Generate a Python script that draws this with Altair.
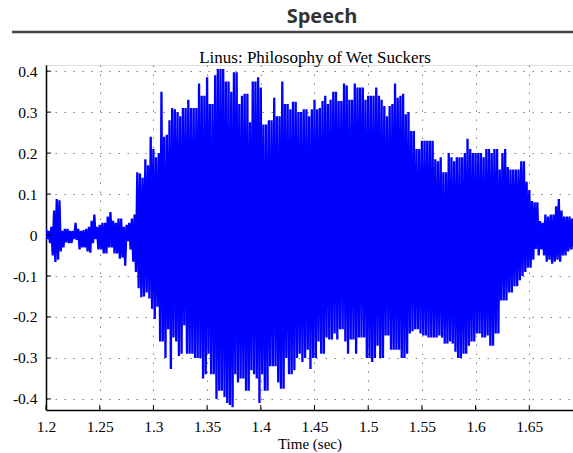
import altair as alt
import pandas as pd

# ---- data (positive / negative peaks, one pair per 2.5 ms) ----
t_start = 1.2
t_step = 0.0025

upper = [
    # 1.200 - 1.2475
    0.015, 0.01, 0.02, 0.06, 0.088, 0.085, 0.01, 0.015, 0.015, 0.01,
    0.01, 0.03, 0.015, 0.01, 0.012, 0.015, 0.02, 0.035, 0.05, 0.02,
    # 1.250 - 1.2975
    0.025, 0.03, 0.03, 0.045, 0.056, 0.035, 0.03, 0.04, 0.04, 0.02,
    0.025, 0.03, 0.04, 0.05, 0.153, 0.15, 0.14, 0.185, 0.17, 0.24,
    # 1.300 - 1.3475
    0.21, 0.19, 0.2, 0.35, 0.24, 0.245, 0.28, 0.31, 0.307, 0.30,
    0.29, 0.31, 0.31, 0.33, 0.31, 0.31, 0.31, 0.37, 0.34, 0.34,
    # 1.350 - 1.3975
    0.385, 0.32, 0.32, 0.39, 0.405, 0.405, 0.405, 0.375, 0.375, 0.35,
    0.397, 0.397, 0.32, 0.34, 0.345, 0.345, 0.275, 0.375, 0.375, 0.385,
    # 1.400 - 1.4475
    0.36, 0.27, 0.27, 0.28, 0.28, 0.335, 0.29, 0.29, 0.375, 0.32,
    0.32, 0.307, 0.325, 0.325, 0.30, 0.30, 0.307, 0.307, 0.29, 0.307,
    # 1.450 - 1.4975
    0.33, 0.307, 0.31, 0.327, 0.34, 0.32, 0.33, 0.35, 0.35, 0.327,
    0.327, 0.37, 0.365, 0.33, 0.33, 0.37, 0.36, 0.36, 0.36, 0.33,
    # 1.500 - 1.5475
    0.34, 0.34, 0.34, 0.36, 0.34, 0.33, 0.315, 0.29, 0.315, 0.32,
    0.37, 0.335, 0.34, 0.345, 0.295, 0.30, 0.254, 0.254, 0.21, 0.21,
    # 1.550 - 1.5975
    0.23, 0.23, 0.23, 0.23, 0.23, 0.185, 0.18, 0.19, 0.153, 0.153,
    0.2, 0.19, 0.18, 0.19, 0.19, 0.19, 0.20, 0.235, 0.21, 0.20,
    # 1.600 - 1.6475
    0.20, 0.20, 0.20, 0.19, 0.21, 0.21, 0.20, 0.21, 0.21, 0.16,
    0.20, 0.21, 0.166, 0.16, 0.16, 0.16, 0.16, 0.18, 0.18, 0.13,
    # 1.650 - 1.690
    0.11, 0.083, 0.08, 0.08, 0.034, 0.03, 0.05, 0.045, 0.05, 0.05,
    0.07, 0.088, 0.06, 0.045, 0.045, 0.045, 0.04,
]

lower = [
    # 1.200 - 1.2475
    -0.01, -0.02, -0.05, -0.066, -0.06, -0.04, -0.03, -0.018, -0.02, -0.02,
    -0.01, -0.012, -0.035, -0.03, -0.03, -0.04, -0.043, -0.02, -0.01, -0.035,
    # 1.250 - 1.2975
    -0.035, -0.045, -0.045, -0.03, -0.03, -0.045, -0.045, -0.058, -0.055, -0.075,
    -0.015, -0.035, -0.065, -0.09, -0.13, -0.152, -0.15, -0.14, -0.155, -0.18,
    # 1.300 - 1.3475
    -0.205, -0.175, -0.26, -0.26, -0.30, -0.23, -0.327, -0.25, -0.26, -0.295,
    -0.29, -0.22, -0.29, -0.29, -0.29, -0.30, -0.30, -0.30, -0.35, -0.34,
    # 1.350 - 1.3975
    -0.29, -0.34, -0.34, -0.40, -0.38, -0.38, -0.395, -0.41, -0.415, -0.42,
    -0.34, -0.36, -0.35, -0.35, -0.38, -0.38, -0.33, -0.34, -0.35, -0.41,
    # 1.400 - 1.4475
    -0.34, -0.38, -0.38, -0.32, -0.32, -0.32, -0.36, -0.375, -0.375, -0.30,
    -0.34, -0.34, -0.33, -0.30, -0.29, -0.31, -0.30, -0.28, -0.327, -0.30,
    # 1.450 - 1.4975
    -0.30, -0.26, -0.29, -0.29, -0.25, -0.255, -0.255, -0.24, -0.255, -0.23,
    -0.23, -0.26, -0.29, -0.255, -0.255, -0.29, -0.25, -0.25, -0.25, -0.30,
    # 1.500 - 1.5475
    -0.30, -0.31, -0.30, -0.27, -0.30, -0.30, -0.245, -0.245, -0.28, -0.28,
    -0.28, -0.28, -0.30, -0.30, -0.29, -0.24, -0.235, -0.23, -0.23, -0.24,
    # 1.550 - 1.5975
    -0.245, -0.245, -0.25, -0.25, -0.25, -0.25, -0.245, -0.25, -0.265, -0.265,
    -0.26, -0.265, -0.285, -0.30, -0.30, -0.29, -0.29, -0.27, -0.26, -0.26,
    # 1.600 - 1.6475
    -0.24, -0.24, -0.25, -0.25, -0.245, -0.27, -0.27, -0.24, -0.24, -0.16,
    -0.16, -0.16, -0.14, -0.14, -0.125, -0.125, -0.11, -0.10, -0.09, -0.08,
    # 1.650 - 1.690
    -0.08, -0.06, -0.034, -0.05, -0.035, -0.05, -0.065, -0.06, -0.07, -0.065,
    -0.06, -0.065, -0.05, -0.05, -0.04, -0.035, -0.035,
]

x_ticks = [1.2, 1.25, 1.3, 1.35, 1.4, 1.45, 1.5, 1.55, 1.6, 1.65]
y_ticks = [-0.4, -0.3, -0.2, -0.1, 0.0, 0.1, 0.2, 0.3, 0.4]

page_title = "Speech"
plot_title = "Linus: Philosophy of Wet Suckers"
x_title = "Time (sec)"

# waveform drawn as a line that swings from each positive peak to the following negative peak
rows = []
for i, (hi, lo) in enumerate(zip(upper, lower)):
    t = t_start + i * t_step
    rows.append({"order": 2 * i, "t": round(t, 6), "amp": hi})
    rows.append({"order": 2 * i + 1, "t": round(t + t_step / 2, 6), "amp": lo})
wave = pd.DataFrame(rows)
xt = pd.DataFrame({"v": x_ticks})
yt = pd.DataFrame({"v": y_ticks})

W, H = 527, 345
xscale = alt.Scale(domain=[1.2, 1.6907], nice=False, zero=False)
yscale = alt.Scale(domain=[-0.427, 0.415], nice=False, zero=False)

serif = "Liberation Serif"

xaxis = alt.Axis(
    values=x_ticks, format="~g", grid=True, gridDash=[1.5, 7.5], gridColor="#808080",
    gridWidth=1, ticks=False, domain=True, domainColor="black", domainWidth=1.5,
    labelFont=serif, labelFontSize=15.5, labelColor="black", labelPadding=9,
    labelFlush=False,
    title=x_title, titleFont=serif, titleFontSize=15, titleFontWeight="normal",
    titleColor="black", titlePadding=2,
)
yaxis = alt.Axis(
    values=y_ticks, grid=True, gridDash=[1.5, 7.5], gridColor="#808080", gridWidth=1,
    ticks=False, domain=True, domainColor="black", domainWidth=1.5,
    labelFont=serif, labelFontSize=15.5, labelColor="black", labelPadding=9,
    labelFlush=False,
    labelExpr="datum.value < 0 ? '-' + format(-datum.value, '.1~f') : format(datum.value, '.1~f')",
    title=None,
)

wave_layer = alt.Chart(wave).mark_line(color="#0000FF", strokeWidth=2.3, clip=True).encode(
    x=alt.X("t:Q", scale=xscale, axis=xaxis),
    y=alt.Y("amp:Q", scale=yscale, axis=yaxis),
    order="order:Q",
)

ytick_layer = alt.Chart(yt).mark_rule(color="black", strokeWidth=1).encode(
    y=alt.Y("v:Q", scale=yscale),
    x=alt.value(0),
    x2=alt.value(5),
)
xtick_layer = alt.Chart(xt).mark_rule(color="black", strokeWidth=1).encode(
    x=alt.X("v:Q", scale=xscale),
    y=alt.value(H),
    y2=alt.value(H - 5),
)

head = pd.DataFrame({"label": [page_title]})
sub = pd.DataFrame({"label": [plot_title]})
title_layer = alt.Chart(head).mark_text(
    font="Open Sans", fontSize=20, fontWeight="bold", color="#333333",
    align="center", baseline="alphabetic",
).encode(text="label:N", x=alt.value(276), y=alt.value(-42))
rule_layer = alt.Chart(head).mark_rule(color="#444444", strokeWidth=2.5).encode(
    x=alt.value(-34), x2=alt.value(W), y=alt.value(-33)
)
sub_layer = alt.Chart(sub).mark_text(
    font=serif, fontSize=17, color="black", align="center", baseline="alphabetic",
).encode(text="label:N", x=alt.value(269), y=alt.value(-2))

chart = alt.layer(
    wave_layer, ytick_layer, xtick_layer, title_layer, rule_layer, sub_layer
).properties(
    width=W, height=H,
    autosize=alt.AutoSizeParams(type="none"),
    padding={"left": 46, "top": 65, "right": 0, "bottom": 43},
).configure_view(stroke=None).configure(background="white")

chart.save("out.html", embed_options={"renderer": "svg", "actions": False})
